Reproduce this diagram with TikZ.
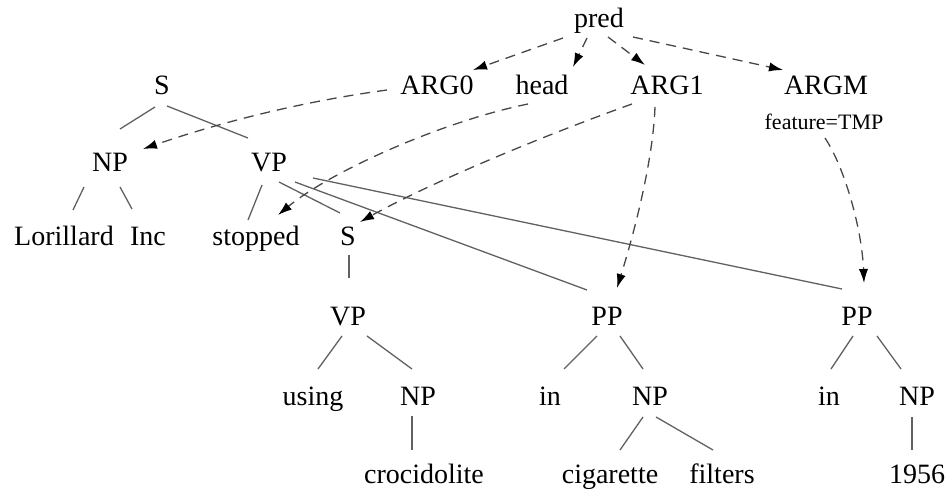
\documentclass[tikz,border=0pt]{standalone}
\usepackage{fontspec}
\setmainfont{Liberation Serif}
\usetikzlibrary{calc,arrows.meta}
\begin{document}
\begin{tikzpicture}[x=0.5pt,y=-0.5pt,
  lbl/.style={anchor=base,inner sep=0pt,font=\fontsize{14}{16}\selectfont},
  feat/.style={anchor=base,inner sep=0pt,font=\fontsize{11}{13}\selectfont},
  branch/.style={draw=black!62,line width=0.65pt},
  role/.style={draw=black!72,line width=0.65pt,dash pattern=on 5pt off 3.5pt,
    -{Latex[length=7pt,width=4.6pt,color=black]}}]
\useasboundingbox (0,0) rectangle (947,492);

% predicate and its roles
\node[lbl] (pred) at (599,28) {pred};
\node[lbl] (arg0) at (437,95) {ARG0};
\node[lbl] (head) at (542,95) {head};
\node[lbl] (arg1) at (667,95) {ARG1};
\node[lbl] (argm) at (826,95) {ARGM};
\node[feat] (tmp) at (824,130) {feature=TMP};

% parse tree
\node[lbl] (s1) at (162,95) {S};
\node[lbl] (np1) at (110,171) {NP};
\node[lbl] (vp1) at (269,171) {VP};
\node[lbl] (lor) at (64,245) {Lorillard};
\node[lbl] (inc) at (148,245) {Inc};
\node[lbl] (stop) at (256,245) {stopped};
\node[lbl] (s2) at (348,245) {S};
\node[lbl] (vp2) at (348,325) {VP};
\node[lbl] (pp1) at (607,325) {PP};
\node[lbl] (pp2) at (857,325) {PP};
\node[lbl] (using) at (313,405) {using};
\node[lbl] (np2) at (418,405) {NP};
\node[lbl] (in1) at (550,405) {in};
\node[lbl] (np3) at (650,405) {NP};
\node[lbl] (in2) at (829,405) {in};
\node[lbl] (np4) at (917,405) {NP};
\node[lbl] (croc) at (424,483) {crocidolite};
\node[lbl] (cig) at (610,483) {cigarette};
\node[lbl] (filt) at (722,483) {filters};
\node[lbl] (year) at (917,483) {1956};

% tree branches
\draw[branch] ($(s1.base)+(-7,12)$) -- ($(np1.base)+(10,-42)$);
\draw[branch] ($(s1.base)+(5,11)$) -- ($(vp1.base)+(-21,-33)$);
\draw[branch] ($(np1.base)+(-26,16)$) -- ($(lor.base)+(9,-35)$);
\draw[branch] ($(np1.base)+(10,16)$) -- ($(inc.base)+(-16,-36)$);
\draw[branch] ($(vp1.base)+(-7,14)$) -- ($(stop.base)+(-8,-25)$);
\draw[branch] ($(vp1.base)+(10,11)$) -- ($(s2.base)+(-8,-32)$);
\draw[branch] ($(vp1.base)+(26,11)$) -- ($(pp1.base)+(-20,-35)$);
\draw[branch] ($(vp1.base)+(44,7)$) -- ($(pp2.base)+(-15,-36)$);
\draw[branch] ($(s2.base)+(1,10)$) -- ($(vp2.base)+(1,-47)$);
\draw[branch] ($(vp2.base)+(-6,11)$) -- ($(using.base)+(5,-36)$);
\draw[branch] ($(vp2.base)+(19,11)$) -- ($(np2.base)+(-6,-36)$);
\draw[branch] ($(np2.base)+(-6,11)$) -- ($(croc.base)+(-12,-33)$);
\draw[branch] ($(pp1.base)+(-10,11)$) -- ($(in1.base)+(14,-36)$);
\draw[branch] ($(pp1.base)+(13,11)$) -- ($(np3.base)+(-7,-36)$);
\draw[branch] ($(np3.base)+(-7,12)$) -- ($(cig.base)+(10,-33)$);
\draw[branch] ($(np3.base)+(6,12)$) -- ($(filt.base)+(-9,-33)$);
\draw[branch] ($(pp2.base)+(-4,11)$) -- ($(in2.base)+(2,-36)$);
\draw[branch] ($(pp2.base)+(20,11)$) -- ($(np4.base)+(-16,-36)$);
\draw[branch] ($(np4.base)+(-5,12)$) -- ($(year.base)+(-5,-33)$);

% role links
\draw[role] ($(pred.base)+(-36,10)$) -- ($(arg0.base)+(36,-25)$);
\draw[role] ($(pred.base)+(-12,10)$) -- ($(head.base)+(31,-28)$);
\draw[role] ($(pred.base)+(9,9)$) -- ($(arg1.base)+(-22,-30)$);
\draw[role] ($(pred.base)+(34,9)$) -- ($(argm.base)+(-43,-25)$);
\draw[role] ($(arg0.base)+(-50,-5)$) .. controls (306,101) and (224,121) .. ($(np1.base)+(33,-22)$);
\draw[role] ($(head.base)+(-14,9)$) .. controls (440,122) and (330,172) .. ($(stop.base)+(22,-30)$);
\draw[role] ($(arg1.base)+(-35,9)$) .. controls (540,137) and (430,183) .. ($(s2.base)+(12,-23)$);
\draw[role] ($(arg1.base)+(-12,12)$) .. controls (653,160) and (635,230) .. ($(pp1.base)+(10,-37)$);
\draw[role] ($(tmp.base)+(1,8)$) .. controls (845,168) and (862,230) .. ($(pp2.base)+(7,-42)$);
\end{tikzpicture}
\end{document}
